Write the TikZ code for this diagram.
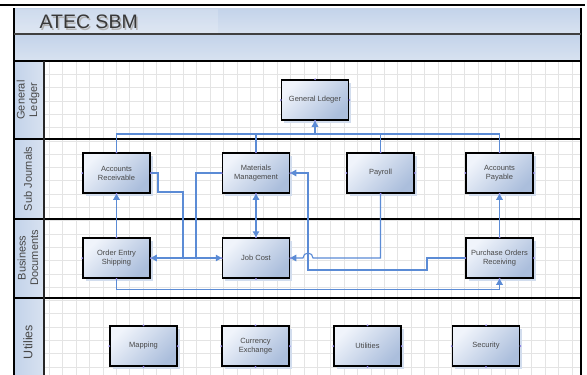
\documentclass[tikz,border=0pt]{standalone}
\usepackage{fontspec}
\setmainfont{Liberation Sans}
\usetikzlibrary{arrows.meta,shadows}
\definecolor{linkblue}{HTML}{5B8BD5}
\definecolor{boxlight}{HTML}{F0F4FB}
\definecolor{boxdark}{HTML}{ABBEDC}
\definecolor{boxshade}{HTML}{D2DDEE}
\definecolor{bandtop}{HTML}{C3D3EA}
\definecolor{bandbottom}{HTML}{D8E2F0}
\definecolor{gridgrey}{HTML}{E4E4E4}
\definecolor{textgrey}{HTML}{474747}
\definecolor{pointpurple}{HTML}{8C7FE0}
\begin{document}
\begin{tikzpicture}[
      x = 1pt, y = -1pt,
      process/.style = {shape=rectangle, draw=black, line width=1.5pt, align=center,
                        minimum width=67pt, minimum height=40pt, inner sep=1pt,
                        top color=boxlight, bottom color=boxdark, shading angle=45,
                        text=textgrey, font=\fontsize{7.5}{9}\selectfont,
                        drop shadow={shadow xshift=2.5pt, shadow yshift=-2.5pt, fill=boxshade, opacity=1}},
      lanelabel/.style = {rotate=90, align=center, text=textgrey, font=\fontsize{11}{12.5}\selectfont},
      wall/.style = {line width=1.8pt, black},
      gridline/.style = {line width=0.45pt, gridgrey},
      link/.style = {line width=1.1pt, linkblue, arrows={-Triangle[length=6pt, width=6.5pt]}},
      plain/.style = {line width=1.1pt, linkblue}
      ]
      \useasboundingbox (0,0) rectangle (587,375);
      % header bands and lane label column
      \shade[top color=bandtop, bottom color=bandbottom] (14,8) rectangle (581,34);
      \shade[top color=bandtop, bottom color=bandbottom] (14,34) rectangle (581,61);
      \fill[white, opacity=.18] (14,9) rectangle (218,33);
      \shade[left color=bandtop, right color=bandbottom] (14,61) rectangle (44,375);
      % grid
      \foreach \gx in {49.3,62.7,...,580} \draw[gridline] (\gx,61) -- (\gx,375);
      \foreach \gy in {74.3,87.6,...,375} \draw[gridline] (44,\gy) -- (580,\gy);
      % walls
      \draw[wall] (0,5) -- (585,5);
      \draw[wall] (14,8) -- (14,375);
      \draw[wall] (581,8) -- (581,375);
      \draw[line width=1.2pt, black!75] (14,34) -- (581,34);
      \foreach \ly in {61,139,219,298} \draw[wall] (14,\ly) -- (581,\ly);
      \draw[line width=1.3pt, black!85] (44,61) -- (44,375);

      \node[anchor=west, text=black!30, font=\fontsize{19.5}{20}\selectfont] (titleshade) at (37.5,23.5) {ATEC SBM};
      \node[anchor=west, text=black!78, font=\fontsize{19.5}{20}\selectfont] (title) at (36,22) {ATEC SBM};

      \node[lanelabel] (lanegl) at (28,100) {General\\Ledger};
      \node[lanelabel] (lanesj) at (28,179) {Sub Journals};
      \node[lanelabel] (lanebd) at (28,258) {Business\\Documents};
      \node[lanelabel, font=\fontsize{12.5}{14}\selectfont] (laneut) at (28,342) {Utilies};

      % boxes
      \node[process] (gl) at (315,100) {General Ldeger};
      \node[process] (ar) at (116.5,173) {Accounts\\Receivable};
      \node[process] (mm) at (256,173) {Materials\\Management};
      \node[process] (pay) at (380.5,173) {Payroll};
      \node[process] (ap) at (499.5,173) {Accounts\\Payable};
      \node[process] (oe) at (116.5,258) {Order Entry\\Shipping};
      \node[process] (jc) at (256,258) {Job Cost};
      \node[process] (po) at (499.5,258) {Purchase Orders\\Receiving};
      \node[process] (map) at (143.5,346) {Mapping};
      \node[process] (cur) at (255.5,346) {Currency\\Exchange};
      \node[process] (util) at (367.5,346) {Utilities};
      \node[process] (sec) at (486,346) {Security};

      % connectors
      \coordinate (bus) at (0,134);
      \draw[plain] (ar.north) -- (ar.north |- bus) -| (ap.north);
      \draw[plain] (mm.north) -- (mm.north |- bus);
      \draw[plain] (pay.north) -- (pay.north |- bus);
      \draw[link] (gl.south |- bus) -- (gl.south);
      \draw[link] (oe.north) -- (ar.south);
      \draw[link] (ar.east) -| (158,192) -| (183,258) -- (jc.west);
      \draw[link] (mm.west) -| (196,258) -- (oe.east);
      \draw[link, arrows={Triangle[length=6pt, width=6.5pt]-Triangle[length=6pt, width=6.5pt]}] (mm.south) -- (jc.north);
      \draw[link] (pay.south) |- (313,258) arc[start angle=0, end angle=180, radius=5pt] -- (jc.east);
      \draw[link] (po.west) -| (427,270) -| (308,173) -- (mm.east);
      \draw[link] (po.north) -- (ap.south);
      \draw[link] (oe.south) -- ++(0,11) -| (po.south);

      % connection points
      \foreach \n in {gl,ar,mm,pay,ap,oe,jc,po,map,cur,util,sec}
        \foreach \a in {north,south,east,west}
          \fill[pointpurple] (\n.\a) circle[radius=1pt];
    \end{tikzpicture}
\end{document}
